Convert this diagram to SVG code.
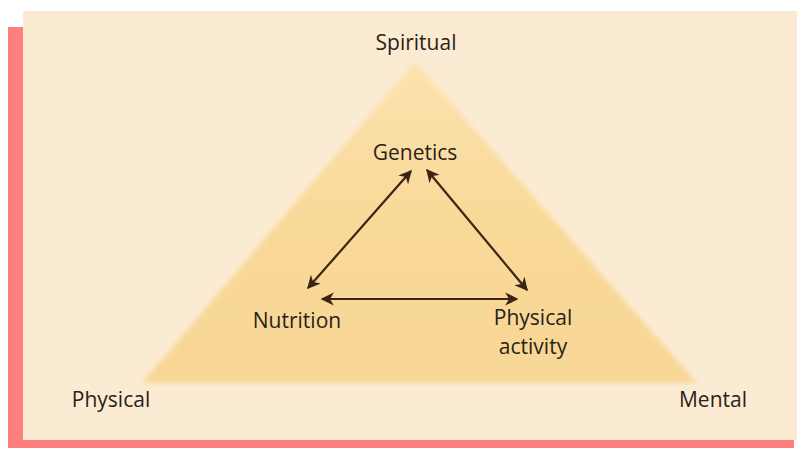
<svg xmlns="http://www.w3.org/2000/svg" width="797" height="449" viewBox="0 0 797 449">
<defs>
<style>
.t{font-family:"Open Sans","Noto Sans","Liberation Sans",sans-serif;font-size:21px;fill:#2a1f17;text-anchor:middle}
.c{stroke:#3b2414;stroke-width:2.2;fill:none;marker-start:url(#ah);marker-end:url(#ah)}
</style>
<marker id="ah" viewBox="0 0 10 10" refX="9" refY="5" markerWidth="6" markerHeight="6" orient="auto-start-reverse" markerUnits="strokeWidth">
<path d="M0,0 L10,5 L0,10 L3,5 Z" fill="#3b2414"/>
</marker>
<linearGradient id="tg" x1="0" y1="0" x2="0" y2="1">
<stop offset="0" stop-color="#fbe2ae"/>
<stop offset="0.5" stop-color="#f9d998"/>
<stop offset="1" stop-color="#f8d796"/>
</linearGradient>
<filter id="bl" x="-5%" y="-5%" width="110%" height="110%"><feGaussianBlur stdDeviation="2.5"/></filter>
</defs>
<rect x="0" y="0" width="797" height="449" fill="#ffffff"/>
<rect x="8" y="27" width="786" height="421" fill="#ff7f7f"/>
<rect x="23" y="11" width="774" height="429" fill="#fcebd3"/>
<polygon points="415,62 142,383 697,383" fill="url(#tg)" filter="url(#bl)"/>
<g id="spiritual"><text class="t" x="416" y="50">Spiritual</text></g>
<g id="physical"><text class="t" x="111" y="407">Physical</text></g>
<g id="mental"><text class="t" x="713" y="407">Mental</text></g>
<g id="genetics"><text class="t" x="415" y="160">Genetics</text></g>
<g id="nutrition"><text class="t" x="297" y="328">Nutrition</text></g>
<g id="physical-activity"><text class="t" x="533" y="325">Physical</text><text class="t" x="533" y="354">activity</text></g>
<g id="connectors">
<line class="c" x1="411" y1="171" x2="308" y2="288"/>
<line class="c" x1="427" y1="170" x2="527" y2="290"/>
<line class="c" x1="322" y1="299" x2="517" y2="299"/>
</g>
</svg>
